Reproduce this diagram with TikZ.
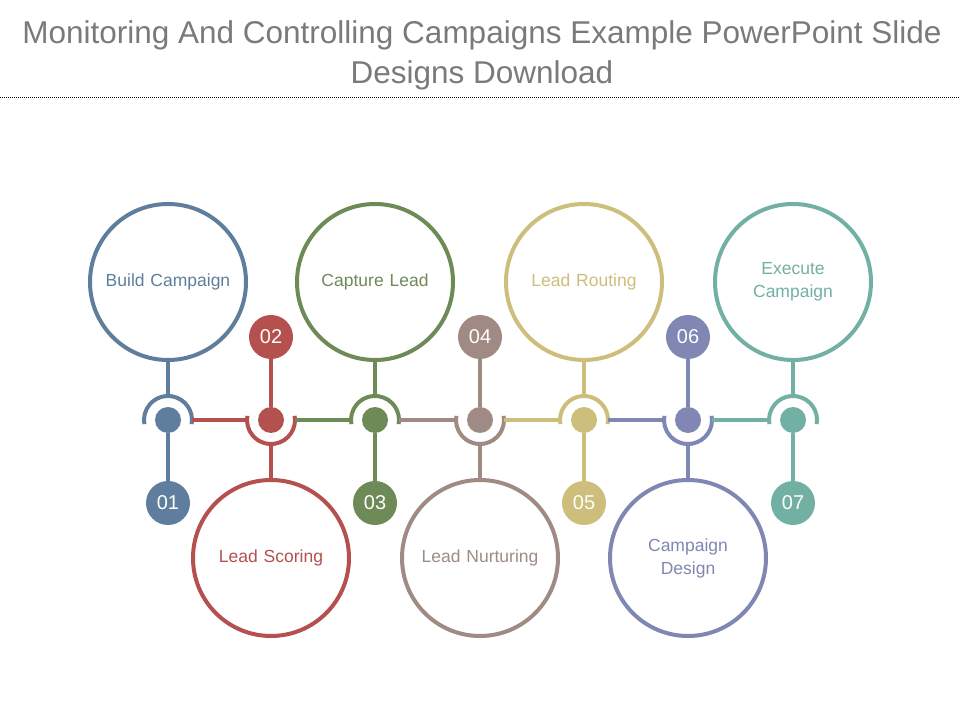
\documentclass[tikz,border=0pt]{standalone}
\usepackage{fontspec}
\setmainfont{Liberation Sans}
\usetikzlibrary{positioning}
\definecolor{colA}{HTML}{5F7E9E}
\definecolor{colB}{HTML}{B4514F}
\definecolor{colC}{HTML}{6E8A57}
\definecolor{colD}{HTML}{A08A84}
\definecolor{colE}{HTML}{CDBE7C}
\definecolor{colF}{HTML}{7F87B2}
\definecolor{colG}{HTML}{73B0A4}
\definecolor{titlegray}{HTML}{7A7A7A}
\tikzset{
  BigCircle/.style={circle, draw=#1, line width=4pt, fill=white, minimum size=156pt, text width=142pt, align=center, text=#1, font=\fontsize{17.5}{23}\selectfont},
  NumBadge/.style={circle, fill=#1, minimum size=44pt, inner sep=0pt, text=white, font=\fontsize{20}{24}\selectfont},
  HubDot/.style={circle, fill=#1, minimum size=26pt, inner sep=0pt},
  Link/.style={draw=#1, line width=4pt}
}
\begin{document}
\begin{tikzpicture}[x=1pt,y=1pt]
  \useasboundingbox (0,0) rectangle (960,720);
  % title
  \node (title) [text=titlegray, align=center, font=\fontsize{31.5}{40}\selectfont] at (482,665)
    {Monitoring And Controlling Campaigns Example PowerPoint Slide\\Designs Download};
  \draw [densely dotted, line width=1pt] (0,622) -- (960,622);

  % columns: number / x / side (1 = circle on top) / colour / label
  \foreach \i/\x/\s/\col/\txt in {1/168/1/colA/Build Campaign, 2/271/-1/colB/Lead Scoring,
      3/375/1/colC/Capture Lead, 4/480/-1/colD/Lead Nurturing, 5/584/1/colE/Lead Routing,
      6/688/-1/colF/Campaign\\Design, 7/793/1/colG/Execute\\Campaign} {
    \node (c\i) [BigCircle=\col] at (\x,300+138*\s) {\txt};
    \node (b\i) [NumBadge=\col] at (\x,300-83*\s) {0\i};
    \node (h\i) [HubDot=\col] at (\x,300) {};
    \coordinate (hl\i) at (\x-24,300);
    \coordinate (hr\i) at (\x+24,300);
    \coordinate (ha\i) at (\x,300+24*\s);
    \draw [Link=\col] (c\i) -- (ha\i);
    \draw [Link=\col] (h\i) -- (b\i);
    \draw [Link=\col] ([shift={(-10*\s:24)}]h\i.center) arc[start angle=-10*\s, end angle=190*\s, radius=24];
  }
  \foreach \j/\i/\col in {1/2/colB, 2/3/colC, 3/4/colD, 4/5/colE, 5/6/colF, 6/7/colG}
    \draw [Link=\col] (hr\j) -- (hl\i);
\end{tikzpicture}
\end{document}
